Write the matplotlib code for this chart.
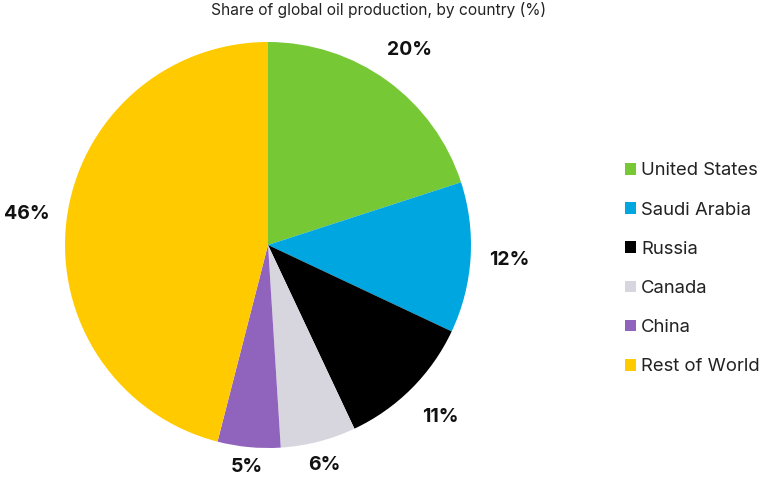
import matplotlib.pyplot as plt
from matplotlib.patches import Patch

plt.rcParams['font.family'] = ['Inter', 'DejaVu Sans']

countries = ['United States', 'Saudi Arabia', 'Russia', 'Canada', 'China', 'Rest of World']
shares = [20, 12, 11, 6, 5, 46]
colors = ['#76c935', '#00a6df', '#000000', '#d7d6df', '#9063bd', '#ffcb00']
# how far each percent label sits from the centre, in radii
label_dist = [1.19, 1.19, 1.2, 1.12, 1.1, 1.2]

fig = plt.figure(figsize=(7.6, 4.8), dpi=100)
ax = fig.add_axes([65 / 760, 32 / 480, 406 / 760, 406 / 480])

wedges, texts = ax.pie(shares, colors=colors, startangle=90, counterclock=False,
                       labels=[f'{s}%' for s in shares], labeldistance=1.0,
                       textprops={'fontsize': 14, 'fontweight': 'bold', 'color': '#111111'})
for t, d in zip(texts, label_dist):
    x, y = t.get_position()
    t.set_position((x * d, y * d))
    t.set_ha('center')
    t.set_va('center')
ax.set_xlim(-1, 1)
ax.set_ylim(-1, 1)
ax.set_aspect('equal')

fig.text(0.498, 0.979, 'Share of global oil production, by country (%)',
         ha='center', va='center', fontsize=11.2, color='#222222')

handles = [Patch(facecolor=c, edgecolor='none') for c in colors]
fig.legend(handles, countries, loc='center left', bbox_to_anchor=(0.8, 0.44),
           frameon=False, fontsize=13.3, handlelength=0.6, handleheight=0.6,
           handletextpad=0.3, labelspacing=1.2, labelcolor='#222222')

fig.savefig('out.png', dpi=100)
